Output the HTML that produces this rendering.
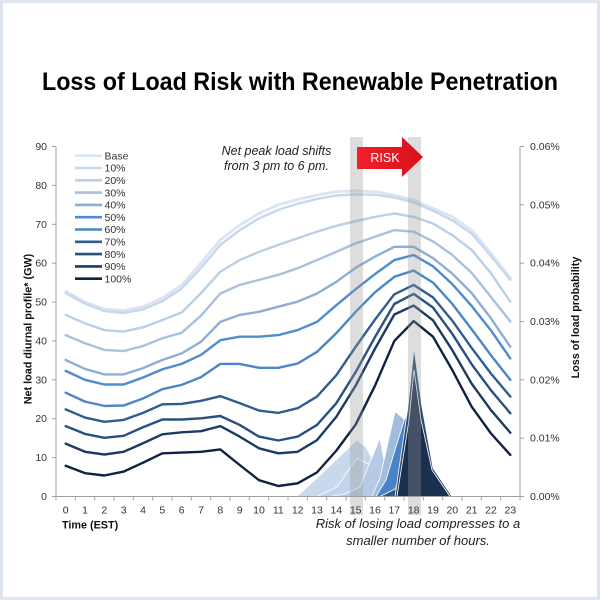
<!DOCTYPE html>
<html>
<head>
<meta charset="utf-8">
<style>
  html, body { margin: 0; padding: 0; background: #ffffff; }
  svg { display: block; }
  text { font-family: "Liberation Sans", Arial, sans-serif; }
</style>
</head>
<body>
<svg width="600" height="600" viewBox="0 0 600 600" xmlns="http://www.w3.org/2000/svg">
  <!-- frame -->
  <rect x="0" y="0" width="600" height="600" fill="#dfe5ef"/>
  <rect x="3" y="3" width="594" height="594" fill="#ffffff"/>

  <!-- title -->
  <text x="300" y="90" text-anchor="middle" font-size="25" font-weight="bold" fill="#000" textLength="516" lengthAdjust="spacingAndGlyphs">Loss of Load Risk with Renewable Penetration</text>

  <!-- LOLP areas -->
  <g stroke="#ffffff" stroke-width="0.8" stroke-linejoin="round">
    <polygon points="297,496.5 317,478 337,459 357,440 366,447 378,470 388,496.5" fill="#c9d9ed"/>
    <polygon points="317,496.5 337,487 357,458 372,466 386,496.5" fill="#c3d4ea"/>
    <polygon points="330,496.5 345,494 360,487 370,462 380,438 384,460 392,496.5" fill="#b6cae5"/>
    <polygon points="372,496.5 380,478 395,411.5 404,419 410,496.5" fill="#a3bcdc"/>
    <polygon points="376,496.5 386,480 395,450 404,421 414,400 422,440 430,496.5" fill="#4a84c8"/>
    <polygon points="380,496.5 395,489 408,462 418,496.5" fill="#2e5687"/>
    <polygon points="395,496.5 408,407 414,348 422,407 433,468 452,496.5" fill="#2c4b73"/>
    <polygon points="397,496.5 409,420 414,370 421,420 432,470 450,496.5" fill="#1b2f4e"/>
  </g>

  <!-- series lines (data coordinates) -->
  <g transform="translate(65.667 496.5) scale(19.3333 -3.88889)" fill="none" stroke-linejoin="round" stroke-linecap="round">
    <polyline vector-effect="non-scaling-stroke" stroke="#dbe5f1" stroke-width="2.8" points="0,52.8 1,50 2,48.2 3,47.8 4,48.8 5,51 6,54.4 7,60 8,66 9,69.8 10,72.8 11,75 12,76.4 13,77.5 14,78.4 15,78.6 16,78.4 17,77.5 18,76.2 19,74.1 20,71.9 21,68.5 22,62.5 23,56.2"/>
    <polyline vector-effect="non-scaling-stroke" stroke="#c8d8ec" stroke-width="2.4" points="0,52.3 1,49.6 2,47.7 3,47.2 4,48.1 5,50.2 6,53.5 7,58.8 8,64.7 9,68.5 10,71.5 11,73.7 12,75.3 13,76.5 14,77.4 15,77.7 16,77.6 17,76.9 18,75.6 19,73.5 20,71 21,67.6 22,61.8 23,55.7"/>
    <polyline vector-effect="non-scaling-stroke" stroke="#bccfe6" stroke-width="2.4" points="0,46.7 1,44.5 2,42.8 3,42.4 4,43.5 5,45.4 6,47.3 7,52.3 8,57.8 9,60.8 10,62.9 11,64.7 12,66.4 13,68.1 14,69.6 15,70.8 16,71.9 17,72.8 18,71.9 19,70.2 20,67.2 21,63.4 22,57.4 23,50.1"/>
    <polyline vector-effect="non-scaling-stroke" stroke="#a9c1de" stroke-width="2.4" points="0,41.5 1,39.4 2,37.7 3,37.4 4,38.7 5,40.7 6,42.1 7,46.5 8,52.2 9,54.4 10,55.7 11,57 12,58.7 13,60.8 14,62.9 15,65.1 16,66.8 17,68.5 18,68.1 19,65.6 20,62.1 21,57.5 22,51.3 23,45"/>
    <polyline vector-effect="non-scaling-stroke" stroke="#8eaed3" stroke-width="2.4" points="0,35.1 1,32.8 2,31.4 3,31.4 4,33 5,35.1 6,36.8 7,39.8 8,44.9 9,46.7 10,47.5 11,48.8 12,50.1 13,52.2 14,55.2 15,58.8 16,61.7 17,64.2 18,64.2 19,61.3 20,57.3 21,52.3 22,45.8 23,38.5"/>
    <polyline vector-effect="non-scaling-stroke" stroke="#4f8bd0" stroke-width="2.4" points="0,32.3 1,30 2,28.8 3,28.8 4,30.6 5,32.7 6,34.1 7,36.4 8,40.2 9,41.1 10,41.1 11,41.5 12,42.8 13,44.9 14,49.2 15,53.3 16,57.2 17,60.8 18,62.1 19,59.2 20,54.6 21,49 22,42.7 23,35.5"/>
    <polyline vector-effect="non-scaling-stroke" stroke="#4a86c8" stroke-width="2.4" points="0,26.7 1,24.4 2,23.3 3,23.4 4,25.2 5,27.6 6,28.7 7,30.7 8,34.1 9,34.1 10,33.1 11,33.1 12,34.2 13,37.2 14,42 15,47.5 16,52.5 17,56.5 18,58.1 19,55 20,49.5 21,43 22,36.3 23,30"/>
    <polyline vector-effect="non-scaling-stroke" stroke="#2f5c91" stroke-width="2.4" points="0,22.4 1,20.3 2,19.2 3,19.7 4,21.5 5,23.7 6,23.8 7,24.6 8,25.8 9,24 10,22.1 11,21.5 12,22.7 13,25.7 14,31.2 15,38.5 16,45.5 17,52 18,54.4 19,51.2 20,45.2 21,38.2 22,31.6 23,25.7"/>
    <polyline vector-effect="non-scaling-stroke" stroke="#29507f" stroke-width="2.4" points="0,18.1 1,16.1 2,15.1 3,15.6 4,17.8 5,19.8 6,19.8 7,20.1 8,20.7 9,18.4 10,15.4 11,14.4 12,15.4 13,18.4 14,24 15,32 16,41 17,49.5 18,52.1 19,48.6 20,41.8 21,34 22,27.3 23,21.4"/>
    <polyline vector-effect="non-scaling-stroke" stroke="#1c3a62" stroke-width="2.4" points="0,13.6 1,11.5 2,10.8 3,11.5 4,13.7 5,16 6,16.5 7,16.8 8,18.1 9,15.4 10,12.4 11,11.1 12,11.5 13,14.5 14,20.5 15,28.5 16,38 17,46.8 18,49.1 19,45.3 20,37.6 21,29 22,22.2 23,16.4"/>
    <polyline vector-effect="non-scaling-stroke" stroke="#10223f" stroke-width="2.4" points="0,7.9 1,6 2,5.4 3,6.4 4,8.7 5,11.1 6,11.3 7,11.5 8,12.1 9,8.1 10,4.2 11,2.7 12,3.4 13,6.2 14,11.8 15,18.5 16,28.5 17,40 18,45.1 19,41.1 20,32.5 21,23.1 22,16.2 23,10.7"/>
  </g>

  <!-- gray highlight bands -->
  <rect x="350" y="137" width="13" height="378" fill="#999999" opacity="0.33"/>
  <rect x="408" y="137" width="13" height="378" fill="#999999" opacity="0.33"/>

  <!-- axes -->
  <g stroke="#a0a0a0" stroke-width="1" fill="none">
    <line x1="56" y1="146.5" x2="56" y2="497"/>
    <line x1="56" y1="496.5" x2="520" y2="496.5"/>
    <line x1="520" y1="146.5" x2="520" y2="497"/>
    <!-- left ticks -->
    <line x1="52" y1="496.5" x2="56" y2="496.5"/>
    <line x1="52" y1="457.6" x2="56" y2="457.6"/>
    <line x1="52" y1="418.7" x2="56" y2="418.7"/>
    <line x1="52" y1="379.8" x2="56" y2="379.8"/>
    <line x1="52" y1="340.9" x2="56" y2="340.9"/>
    <line x1="52" y1="302.1" x2="56" y2="302.1"/>
    <line x1="52" y1="263.2" x2="56" y2="263.2"/>
    <line x1="52" y1="224.3" x2="56" y2="224.3"/>
    <line x1="52" y1="185.4" x2="56" y2="185.4"/>
    <line x1="52" y1="146.5" x2="56" y2="146.5"/>
    <!-- right ticks -->
    <line x1="520" y1="496.5" x2="524" y2="496.5"/>
    <line x1="520" y1="438.2" x2="524" y2="438.2"/>
    <line x1="520" y1="379.8" x2="524" y2="379.8"/>
    <line x1="520" y1="321.5" x2="524" y2="321.5"/>
    <line x1="520" y1="263.2" x2="524" y2="263.2"/>
    <line x1="520" y1="204.8" x2="524" y2="204.8"/>
    <line x1="520" y1="146.5" x2="524" y2="146.5"/>
    <!-- x ticks -->
    <line x1="56" y1="496.5" x2="56" y2="500.5"/>
    <line x1="75.33" y1="496.5" x2="75.33" y2="500.5"/>
    <line x1="94.67" y1="496.5" x2="94.67" y2="500.5"/>
    <line x1="114" y1="496.5" x2="114" y2="500.5"/>
    <line x1="133.33" y1="496.5" x2="133.33" y2="500.5"/>
    <line x1="152.67" y1="496.5" x2="152.67" y2="500.5"/>
    <line x1="172" y1="496.5" x2="172" y2="500.5"/>
    <line x1="191.33" y1="496.5" x2="191.33" y2="500.5"/>
    <line x1="210.67" y1="496.5" x2="210.67" y2="500.5"/>
    <line x1="230" y1="496.5" x2="230" y2="500.5"/>
    <line x1="249.33" y1="496.5" x2="249.33" y2="500.5"/>
    <line x1="268.67" y1="496.5" x2="268.67" y2="500.5"/>
    <line x1="288" y1="496.5" x2="288" y2="500.5"/>
    <line x1="307.33" y1="496.5" x2="307.33" y2="500.5"/>
    <line x1="326.67" y1="496.5" x2="326.67" y2="500.5"/>
    <line x1="346" y1="496.5" x2="346" y2="500.5"/>
    <line x1="365.33" y1="496.5" x2="365.33" y2="500.5"/>
    <line x1="384.67" y1="496.5" x2="384.67" y2="500.5"/>
    <line x1="404" y1="496.5" x2="404" y2="500.5"/>
    <line x1="423.33" y1="496.5" x2="423.33" y2="500.5"/>
    <line x1="442.67" y1="496.5" x2="442.67" y2="500.5"/>
    <line x1="462" y1="496.5" x2="462" y2="500.5"/>
    <line x1="481.33" y1="496.5" x2="481.33" y2="500.5"/>
    <line x1="500.67" y1="496.5" x2="500.67" y2="500.5"/>
    <line x1="520" y1="496.5" x2="520" y2="500.5"/>
  </g>

  <!-- left tick labels -->
  <g font-size="10.5" fill="#333" text-anchor="end">
    <text x="47" y="500">0</text>
    <text x="47" y="461.1">10</text>
    <text x="47" y="422.2">20</text>
    <text x="47" y="383.3">30</text>
    <text x="47" y="344.4">40</text>
    <text x="47" y="305.6">50</text>
    <text x="47" y="266.7">60</text>
    <text x="47" y="227.8">70</text>
    <text x="47" y="188.9">80</text>
    <text x="47" y="150">90</text>
  </g>

  <!-- right tick labels -->
  <g font-size="10.5" fill="#333" text-anchor="start">
    <text x="530" y="500">0.00%</text>
    <text x="530" y="441.7">0.01%</text>
    <text x="530" y="383.3">0.02%</text>
    <text x="530" y="325">0.03%</text>
    <text x="530" y="266.7">0.04%</text>
    <text x="530" y="208.3">0.05%</text>
    <text x="530" y="150">0.06%</text>
  </g>

  <!-- x tick labels -->
  <g font-size="10.5" fill="#333" text-anchor="middle">
    <text x="65.7" y="513.5">0</text>
    <text x="85" y="513.5">1</text>
    <text x="104.3" y="513.5">2</text>
    <text x="123.7" y="513.5">3</text>
    <text x="143" y="513.5">4</text>
    <text x="162.3" y="513.5">5</text>
    <text x="181.7" y="513.5">6</text>
    <text x="201" y="513.5">7</text>
    <text x="220.3" y="513.5">8</text>
    <text x="239.7" y="513.5">9</text>
    <text x="259" y="513.5">10</text>
    <text x="278.3" y="513.5">11</text>
    <text x="297.7" y="513.5">12</text>
    <text x="317" y="513.5">13</text>
    <text x="336.3" y="513.5">14</text>
    <text x="355.7" y="513.5">15</text>
    <text x="375" y="513.5">16</text>
    <text x="394.3" y="513.5">17</text>
    <text x="413.7" y="513.5">18</text>
    <text x="433" y="513.5">19</text>
    <text x="452.3" y="513.5">20</text>
    <text x="471.7" y="513.5">21</text>
    <text x="491" y="513.5">22</text>
    <text x="510.3" y="513.5">23</text>
  </g>

  <!-- axis titles -->
  <text x="62" y="528.3" font-size="10.8" font-weight="bold" fill="#111">Time (EST)</text>
  <text transform="translate(31.5 329) rotate(-90)" text-anchor="middle" font-size="10.8" font-weight="bold" fill="#111">Net load diurnal profile* (GW)</text>
  <text transform="translate(579 317.5) rotate(-90)" text-anchor="middle" font-size="10.8" font-weight="bold" fill="#111">Loss of load probability</text>

  <!-- legend -->
  <g stroke-width="2.6" stroke-linecap="butt">
    <line x1="75" y1="155.7" x2="102" y2="155.7" stroke="#dbe5f1"/>
    <line x1="75" y1="168" x2="102" y2="168" stroke="#c8d8ec"/>
    <line x1="75" y1="180.3" x2="102" y2="180.3" stroke="#bccfe6"/>
    <line x1="75" y1="192.6" x2="102" y2="192.6" stroke="#a9c1de"/>
    <line x1="75" y1="204.9" x2="102" y2="204.9" stroke="#8eaed3"/>
    <line x1="75" y1="217.2" x2="102" y2="217.2" stroke="#4f8bd0"/>
    <line x1="75" y1="229.5" x2="102" y2="229.5" stroke="#4a86c8"/>
    <line x1="75" y1="241.8" x2="102" y2="241.8" stroke="#2f5c91"/>
    <line x1="75" y1="254.1" x2="102" y2="254.1" stroke="#29507f"/>
    <line x1="75" y1="266.4" x2="102" y2="266.4" stroke="#1c3a62"/>
    <line x1="75" y1="278.7" x2="102" y2="278.7" stroke="#10223f"/>
  </g>
  <g font-size="10.5" fill="#333">
    <text x="104.5" y="159.4">Base</text>
    <text x="104.5" y="171.7">10%</text>
    <text x="104.5" y="184">20%</text>
    <text x="104.5" y="196.3">30%</text>
    <text x="104.5" y="208.6">40%</text>
    <text x="104.5" y="220.9">50%</text>
    <text x="104.5" y="233.2">60%</text>
    <text x="104.5" y="245.5">70%</text>
    <text x="104.5" y="257.8">80%</text>
    <text x="104.5" y="270.1">90%</text>
    <text x="104.5" y="282.4">100%</text>
  </g>

  <!-- annotations -->
  <g font-size="12.5" font-style="italic" fill="#222" text-anchor="middle">
    <text x="276.5" y="155">Net peak load shifts</text>
    <text x="276.5" y="170">from 3 pm to 6 pm.</text>
  </g>
  <g font-size="13" font-style="italic" fill="#222" text-anchor="middle">
    <text x="418" y="528">Risk of losing load compresses to a</text>
    <text x="418" y="545">smaller number of hours.</text>
  </g>

  <!-- RISK arrow -->
  <defs>
    <linearGradient id="rg" x1="0" y1="0" x2="1" y2="0">
      <stop offset="0" stop-color="#f2202a"/>
      <stop offset="1" stop-color="#d8101a"/>
    </linearGradient>
  </defs>
  <polygon points="357,147 402,147 402,137 423,157 402,177 402,169 357,169" fill="url(#rg)"/>
  <text x="385" y="162" text-anchor="middle" font-size="12.5" fill="#ffffff">RISK</text>
</svg>
</body>
</html>
